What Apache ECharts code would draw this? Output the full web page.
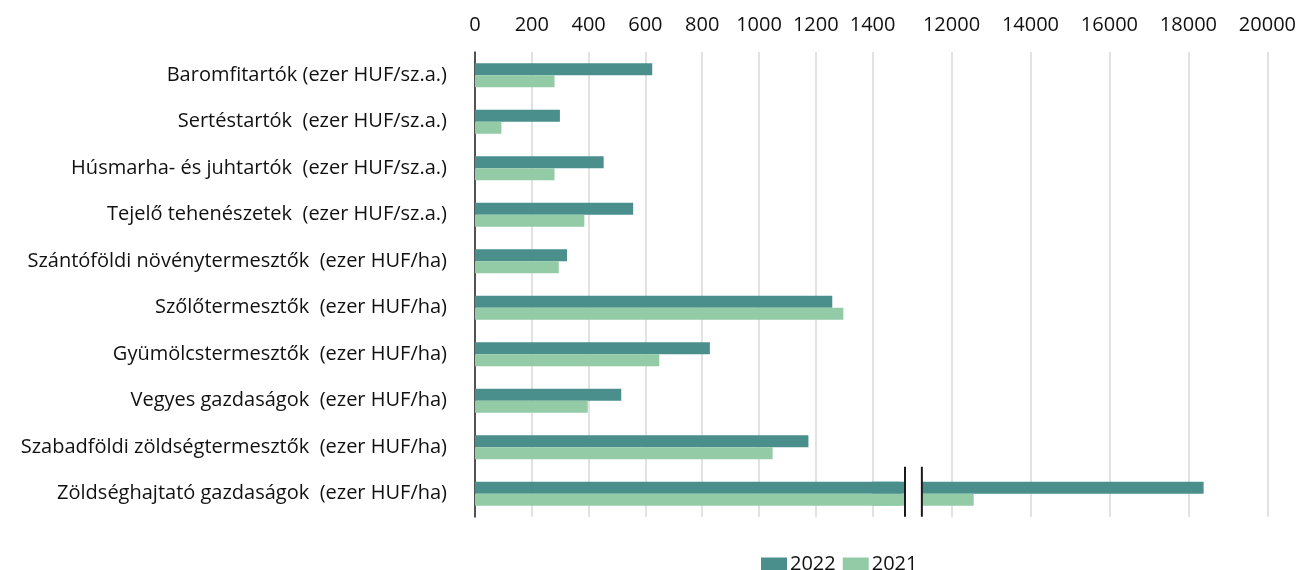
<!DOCTYPE html>
<html><head><meta charset="utf-8">
<script src="https://cdn.jsdelivr.net/npm/echarts@6/dist/echarts.min.js"></script>
<style>html,body{margin:0;padding:0;background:#fff}#c{width:1299px;height:570px}</style>
</head><body><div id="c"></div>
<script>
const categories = [
  'Baromfitartók (ezer HUF/sz.a.)',
  'Sertéstartók  (ezer HUF/sz.a.)',
  'Húsmarha- és juhtartók  (ezer HUF/sz.a.)',
  'Tejelő tehenészetek  (ezer HUF/sz.a.)',
  'Szántóföldi növénytermesztők  (ezer HUF/ha)',
  'Szőlőtermesztők  (ezer HUF/ha)',
  'Gyümölcstermesztők  (ezer HUF/ha)',
  'Vegyes gazdaságok  (ezer HUF/ha)',
  'Szabadföldi zöldségtermesztők  (ezer HUF/ha)',
  'Zöldséghajtató gazdaságok  (ezer HUF/ha)'
];
const values2022 = [624, 299, 453, 557, 324, 1258, 827, 515, 1174, 18385];
const values2021 = [280, 93, 280, 385, 295, 1297, 649, 397, 1048, 12562];
const seriesNames = ['2022', '2021'];
const leftMax = 1500, rightMin = 10000, rightMax = 20000;

const C22 = '#4a8f8c', C21 = '#93cba7';
const FONT = 'Open Sans';
const chart = echarts.init(document.getElementById('c'));
const rightData = arr => arr.map(v => v > leftMax ? v : '-');
const gridTop = 52, gridBottom = 53;
const common = {type:'bar', barWidth:12, barGap:'0%', clip:true, animation:false};
const plain = v => String(v);

chart.setOption({
  animation:false,
  textStyle:{fontFamily:FONT},
  legend:{data:seriesNames, left:761, top:554, itemWidth:26, itemHeight:13, itemGap:7,
    icon:'rect', padding:0, textStyle:{fontSize:20, color:'#111', fontFamily:FONT, padding:[0,0,0,-2]}},
  grid:[
    {left:475, width:426, top:gridTop, bottom:gridBottom},
    {left:872.5, width:397, top:gridTop, bottom:gridBottom}
  ],
  xAxis:[
    {type:'value', gridIndex:0, position:'top', min:0, max:leftMax, interval:200,
     axisLine:{show:false}, axisTick:{show:false},
     axisLabel:{fontSize:20, color:'#111', margin:17, showMaxLabel:false, fontFamily:FONT, formatter:plain},
     splitLine:{show:true, showMaxLine:false, lineStyle:{color:'#d9d9d9', width:1.5}}},
    {type:'value', gridIndex:1, position:'top', min:rightMin, max:rightMax, interval:2000,
     axisLine:{show:false}, axisTick:{show:false},
     axisLabel:{fontSize:20, color:'#111', margin:17, showMinLabel:false, fontFamily:FONT, formatter:plain},
     splitLine:{show:true, showMinLine:false, lineStyle:{color:'#d9d9d9', width:1.5}}}
  ],
  yAxis:[
    {type:'category', gridIndex:0, data:categories, inverse:true,
     axisLine:{show:true, lineStyle:{color:'#222', width:1.5}}, axisTick:{show:false},
     axisLabel:{fontSize:20, color:'#111', margin:28, fontFamily:FONT}},
    {type:'category', gridIndex:1, data:categories, inverse:true, show:false}
  ],
  series:[
    Object.assign({name:seriesNames[0], xAxisIndex:0, yAxisIndex:0, data:values2022, itemStyle:{color:C22}}, common),
    Object.assign({name:seriesNames[1], xAxisIndex:0, yAxisIndex:0, data:values2021, itemStyle:{color:C21}}, common),
    Object.assign({name:seriesNames[0], xAxisIndex:1, yAxisIndex:1, data:rightData(values2022), itemStyle:{color:C22}}, common),
    Object.assign({name:seriesNames[1], xAxisIndex:1, yAxisIndex:1, data:rightData(values2021), itemStyle:{color:C21}}, common)
  ]
});

// axis break marks, positioned from the axes
const bx1 = chart.convertToPixel({xAxisIndex:0}, leftMax) + 4;
const bx2 = chart.convertToPixel({xAxisIndex:1}, 11250);
const lastCat = categories.length - 1;
const cy = chart.convertToPixel({yAxisIndex:0}, categories[lastCat]);
chart.setOption({graphic:[
  {type:'rect', z:100, shape:{x:bx1, y:cy-15, width:bx2-bx1, height:30}, style:{fill:'#fff'}},
  {type:'line', z:101, shape:{x1:bx1, y1:cy-27, x2:bx1, y2:cy+23}, style:{stroke:'#1a1a1a', lineWidth:2}},
  {type:'line', z:101, shape:{x1:bx2, y1:cy-27, x2:bx2, y2:cy+23}, style:{stroke:'#1a1a1a', lineWidth:2}}
]});
</script></body></html>
